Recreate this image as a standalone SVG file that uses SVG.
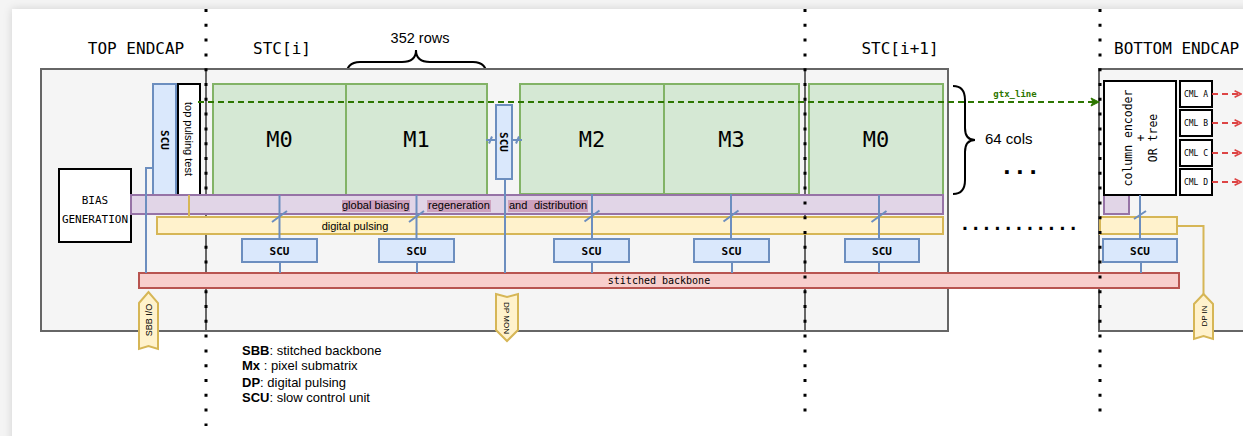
<svg xmlns="http://www.w3.org/2000/svg" width="1243" height="436" viewBox="0 0 1243 436">
<style>
.mono{font-family:"DejaVu Sans Mono",monospace}
.sans{font-family:"Liberation Sans",Arial,sans-serif}
.box{fill:#f5f5f5;stroke:#666666;stroke-width:2}
.mat{fill:#d5e8d4;stroke:#82b366;stroke-width:2}
.scu{fill:#dae8fc;stroke:#6c8ebf;stroke-width:2}
.wb{fill:#ffffff;stroke:#000000;stroke-width:2}
.pur{fill:#e1d5e7;stroke:#9673a6;stroke-width:2}
.yel{fill:#fff2cc;stroke:#d6b656;stroke-width:2}
.red{fill:#f8cecc;stroke:#b85450;stroke-width:2}
.bl{stroke:#6c8ebf;stroke-width:2;fill:none}
.yl{stroke:#d6b656;stroke-width:2;fill:none}
.dots{stroke:#000;stroke-width:3;stroke-dasharray:3 11.8;fill:none}
.gl{stroke:#666666;stroke-width:2}
.title{font-size:16px;fill:#000}
.mlab{font-size:22px;fill:#000;text-anchor:middle}
.scut{font-size:11px;font-weight:bold;text-anchor:middle;fill:#000}
</style>
<defs>
<filter id="sh" x="-5%" y="-5%" width="110%" height="110%">
<feDropShadow dx="0" dy="0" stdDeviation="4" flood-color="#000" flood-opacity="0.15"/>
</filter>
<marker id="ag" viewBox="0 0 10 10" refX="9" refY="5" markerWidth="5" markerHeight="5" orient="auto">
<path d="M1,1 L9,5 L1,9 L3,5 Z" fill="#2d7600" stroke="#2d7600"/>
</marker>
<marker id="ar" viewBox="0 0 10 10" refX="9" refY="5" markerWidth="4" markerHeight="4" orient="auto">
<path d="M1,1 L9,5 L1,9" fill="none" stroke="#dd4444" stroke-width="2"/>
</marker>
</defs>

<rect x="0" y="0" width="1243" height="436" fill="#f4f4f4"/>
<rect x="12" y="9" width="1260" height="460" fill="#ffffff" filter="url(#sh)"/>

<!-- titles -->
<text class="mono title" x="136" y="54" text-anchor="middle">TOP ENDCAP</text>
<text class="mono title" x="282" y="54" text-anchor="middle">STC[i]</text>
<text class="mono title" x="900" y="54" text-anchor="middle">STC[i+1]</text>
<text class="mono title" x="1114" y="54">BOTTOM ENDCAP</text>
<text class="sans" x="420" y="43" font-size="14.5" text-anchor="middle">352 rows</text>
<path d="M346,77 Q346,62 360,62 L402,62 Q416,62 416,50 Q416,62 430,62 L473,62 Q487,62 487,77" fill="none" stroke="#000" stroke-width="2"/>

<!-- boxes -->
<g id="stc-frame"><rect class="box" x="41" y="69" width="907" height="262"/></g>
<g id="bottom-frame"><rect class="box" x="1099" y="69" width="160" height="262"/></g>

<!-- separators under -->
<line class="gl" x1="206" y1="69" x2="206" y2="331"/>
<line class="gl" x1="805" y1="69" x2="805" y2="331"/>
<line class="dots" x1="206" y1="9" x2="206" y2="426"/>

<!-- right brace -->
<path d="M953,86 Q965,86 965,100 L965,128 Q965,140 975,140 Q965,140 965,152 L965,180 Q965,194 953,194" fill="none" stroke="#000" stroke-width="2"/>
<text class="sans" x="985" y="144" font-size="15">64 cols</text>
<text class="mono" x="1020" y="174" font-size="22" font-weight="bold" text-anchor="middle">...</text>
<text class="mono" x="1019" y="230" font-size="18" font-weight="bold" text-anchor="middle">...........</text>

<!-- nodes -->
<g id="scu-top-left"><rect class="scu" x="153" y="84" width="23" height="111"/>
<text class="mono scut" transform="translate(164.5,140) rotate(90)" y="4">SCU</text></g>
<g id="top-pulsing-test"><rect class="wb" x="178" y="84" width="22" height="111"/>
<text class="sans" font-size="11" text-anchor="middle" transform="translate(189,139) rotate(90)" y="4">top pulsing test</text></g>
<g id="bias-generation"><rect class="wb" x="59" y="169" width="72" height="73"/>
<text class="mono" font-size="11" text-anchor="middle" x="95" y="204">BIAS</text>
<text class="mono" font-size="11" text-anchor="middle" x="95" y="223">GENERATION</text></g>

<g id="m0-i"><rect class="mat" x="213" y="84" width="133" height="111"/><text class="mono mlab" x="279.5" y="147">M0</text></g>
<g id="m1-i"><rect class="mat" x="346" y="84" width="141" height="111"/><text class="mono mlab" x="416.5" y="147">M1</text></g>
<g id="m2-i"><rect class="mat" x="520" y="84" width="144" height="110"/><text class="mono mlab" x="592" y="147">M2</text></g>
<g id="m3-i"><rect class="mat" x="664" y="84" width="135" height="110"/><text class="mono mlab" x="731.5" y="147">M3</text></g>
<g id="m0-i1"><rect class="mat" x="809" y="84" width="134" height="111"/><text class="mono mlab" x="876" y="147">M0</text></g>

<g id="scu-mid"><rect class="scu" x="496" y="105" width="16" height="74"/>
<text class="mono scut" transform="translate(504,142) rotate(90)" y="4">SCU</text></g>

<g id="global-biasing"><rect class="pur" x="131" y="195" width="812" height="19"/>
<rect x="342" y="200" width="68" height="12" fill="#cda2be"/>
<rect x="427" y="200" width="64" height="12" fill="#cda2be"/>
<rect x="508" y="200" width="80" height="12" fill="#cda2be"/>
<text class="sans" font-size="11" x="342" y="209">global biasing</text>
<text class="sans" font-size="11" x="428" y="209">regeneration</text>
<text class="sans" font-size="11" x="509" y="209">and</text>
<text class="sans" font-size="11" x="534" y="209">distribution</text></g>

<g id="digital-pulsing"><rect class="yel" x="157" y="217" width="786" height="17"/>
<rect x="322" y="220" width="66" height="11" fill="#ffeeb0"/>
<text class="sans" font-size="11" x="355" y="229.5" text-anchor="middle">digital pulsing</text></g>

<g id="bottom-purple"><rect class="pur" x="1104" y="195" width="25" height="19"/></g>
<g id="bottom-yellow"><rect class="yel" x="1100" y="217" width="77" height="17"/></g>

<g id="scu-1"><rect class="scu" x="242" y="239" width="75" height="23"/><text class="mono scut" x="279.5" y="255">SCU</text></g>
<g id="scu-2"><rect class="scu" x="379" y="239" width="75" height="23"/><text class="mono scut" x="416.5" y="255">SCU</text></g>
<g id="scu-3"><rect class="scu" x="554" y="239" width="75" height="23"/><text class="mono scut" x="591.5" y="255">SCU</text></g>
<g id="scu-4"><rect class="scu" x="694" y="239" width="75" height="23"/><text class="mono scut" x="731.5" y="255">SCU</text></g>
<g id="scu-5"><rect class="scu" x="845" y="239" width="74" height="23"/><text class="mono scut" x="882" y="255">SCU</text></g>
<g id="scu-6"><rect class="scu" x="1103" y="239" width="74" height="23"/><text class="mono scut" x="1140" y="255">SCU</text></g>

<g id="stitched-backbone"><rect class="red" x="139" y="273" width="1040" height="15"/>
<text class="mono" font-size="10" x="659" y="284" text-anchor="middle">stitched backbone</text></g>

<g id="column-encoder"><rect class="wb" x="1104" y="81" width="72" height="114"/>
<g transform="translate(1140,138) rotate(-90)" class="mono" font-size="11.5" text-anchor="middle">
<text x="0" y="-8">column encoder</text>
<text x="0" y="4.5">+</text>
<text x="0" y="17">OR tree</text></g></g>

<g id="cml-a"><rect class="wb" x="1180" y="81" width="32" height="26"/><text class="mono" font-size="8" x="1196" y="97" text-anchor="middle">CML A</text></g>
<g id="cml-b"><rect class="wb" x="1180" y="110" width="32" height="26"/><text class="mono" font-size="8" x="1196" y="126" text-anchor="middle">CML B</text></g>
<g id="cml-c"><rect class="wb" x="1180" y="140" width="32" height="26"/><text class="mono" font-size="8" x="1196" y="156" text-anchor="middle">CML C</text></g>
<g id="cml-d"><rect class="wb" x="1180" y="169" width="32" height="26"/><text class="mono" font-size="8" x="1196" y="185" text-anchor="middle">CML D</text></g>

<g id="sbb-io"><polygon class="yel" points="139,303 148.5,292 158,303 158,349 148.5,346 139,349"/>
<text class="sans" font-size="9" text-anchor="middle" transform="translate(148.5,320) rotate(-90)" y="3">SBB I/O</text></g>
<g id="dp-mon"><polygon class="yel" points="496,294 507,297 518,294 518,330 507,341 496,330"/>
<text class="sans" font-size="8" text-anchor="middle" transform="translate(507,318) rotate(90)" y="3">DP MON</text></g>
<g id="dp-in"><polygon class="yel" points="1194,304 1203.5,294 1213,304 1213,339 1203.5,336 1194,339"/>
<text class="sans" font-size="8" text-anchor="middle" transform="translate(1203.5,316) rotate(-90)" y="3">DP IN</text></g>

<!-- connectors -->
<g id="connectors">
<polyline class="bl" points="153,168 146,168 146,273"/>
<line class="yl" x1="189" y1="195" x2="189" y2="217"/>
<polyline class="yl" points="1177,226 1203.5,226 1203.5,294"/>
<line class="bl" x1="279.5" y1="195" x2="279.5" y2="239"/>
<line class="bl" x1="416.5" y1="195" x2="416.5" y2="239"/>
<line class="bl" x1="592" y1="194" x2="592" y2="239"/>
<line class="bl" x1="731" y1="194" x2="731" y2="239"/>
<line class="bl" x1="879" y1="195" x2="879" y2="239"/>
<line class="bl" x1="1140" y1="195" x2="1140" y2="239"/>
<path class="bl" d="M272,222 L287,211 M409,222 L424,211 M584.5,221.5 L599.5,210.5 M723.5,221.5 L738.5,210.5 M871.5,222 L886.5,211 M1134,219 L1146,211"/>
<line class="bl" x1="280" y1="262" x2="280" y2="273"/>
<line class="bl" x1="417" y1="262" x2="417" y2="273"/>
<line class="bl" x1="592" y1="262" x2="592" y2="273"/>
<line class="bl" x1="732" y1="262" x2="732" y2="273"/>
<line class="bl" x1="879" y1="262" x2="879" y2="273"/>
<line class="bl" x1="1141" y1="262" x2="1141" y2="273"/>
<line class="bl" x1="505" y1="179" x2="505" y2="273"/>
<line class="bl" x1="486" y1="140" x2="496" y2="140"/>
<line class="bl" x1="512" y1="140" x2="522" y2="140"/>
<path class="bl" stroke-width="1.5" d="M489,143.5 L492,136.5 M516,143.5 L519,136.5"/>
<line x1="198" y1="102" x2="1099" y2="102" stroke="#2d7600" stroke-width="2" stroke-dasharray="6 4" marker-end="url(#ag)"/>
<text class="mono" x="1015" y="97" font-size="9" font-weight="bold" fill="#2d7600" text-anchor="middle">gtx_line</text>
<line x1="1212" y1="94" x2="1241" y2="94" stroke="#dd4444" stroke-width="2" stroke-dasharray="6 4" marker-end="url(#ar)"/>
<line x1="1212" y1="123" x2="1241" y2="123" stroke="#dd4444" stroke-width="2" stroke-dasharray="6 4" marker-end="url(#ar)"/>
<line x1="1212" y1="153" x2="1241" y2="153" stroke="#dd4444" stroke-width="2" stroke-dasharray="6 4" marker-end="url(#ar)"/>
<line x1="1212" y1="182" x2="1241" y2="182" stroke="#dd4444" stroke-width="2" stroke-dasharray="6 4" marker-end="url(#ar)"/>
</g>

<!-- separators over -->
<line class="dots" x1="805" y1="9" x2="805" y2="412"/>
<line class="dots" x1="1100" y1="9" x2="1100" y2="412"/>

<!-- legend -->
<g class="sans" font-size="13" fill="#000">
<text x="242" y="355"><tspan font-weight="bold">SBB</tspan>: stitched backbone</text>
<text x="242" y="370"><tspan font-weight="bold">Mx</tspan> : pixel submatrix</text>
<text x="242" y="387"><tspan font-weight="bold">DP</tspan>: digital pulsing</text>
<text x="242" y="402"><tspan font-weight="bold">SCU</tspan>: slow control unit</text>
</g>
</svg>
